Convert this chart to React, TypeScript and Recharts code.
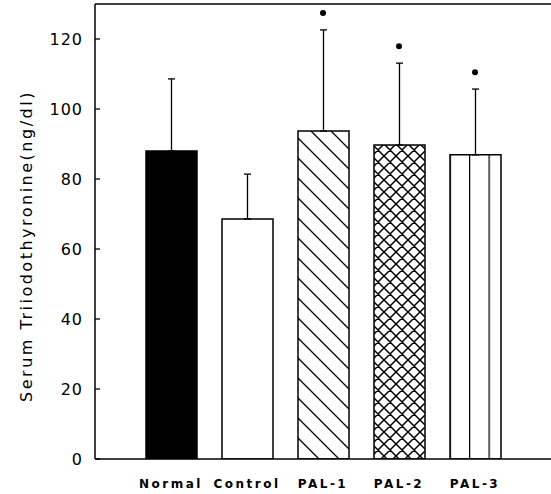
import React from 'react';
import {
  ComposedChart,
  Bar,
  Cell,
  ErrorBar,
  Scatter,
  XAxis,
  YAxis,
  ReferenceLine,
  Label,
} from 'recharts';

// Serum T3 by group, mean with upper SD, * = significant vs control
const groups = ['Normal', 'Control', 'PAL-1', 'PAL-2', 'PAL-3'];
const means = [88, 68.6, 93.7, 89.7, 86.9];
const sds = [20.6, 12.8, 28.9, 23.4, 18.8];
const significant = [false, false, true, true, true];
const yTicks = [0, 20, 40, 60, 80, 100, 120];

const barFills = ['#000', '#fff', 'url(#hatch)', 'url(#cross)', 'url(#vlines)'];
const STAR_GAP = 4.8;

const data = groups.map((name, i) => ({
  name,
  mean: means[i],
  err: [0, sds[i]],
  star: significant[i] ? means[i] + sds[i] + STAR_GAP : null,
}));

const XTick = ({ x, y, payload }: any) => (
  <text
    x={x}
    y={y + 29}
    textAnchor="middle"
    fontFamily="DejaVu Sans"
    fontWeight="bold"
    fontSize={12}
    letterSpacing={2.5}
    fill="#000"
  >
    {payload.value}
  </text>
);

const Star = ({ cx, cy }: any) => {
  if (cx == null || cy == null || isNaN(cy)) return <g />;
  return <circle cx={cx} cy={cy} r={3} fill="#000" />;
};

const YLabel = () => (
  <text
    x={26}
    y={246}
    transform="rotate(-90 26 246)"
    textAnchor="middle"
    dominantBaseline="central"
    fontFamily="DejaVu Sans"
    fontSize={16}
    letterSpacing={2.5}
    fill="#000"
  >
    Serum Triiodothyronine(ng/dl)
  </text>
);

export default function App() {
  return (
    <div style={{ position: 'absolute', left: 0, top: 0, background: '#fff' }}>
      {/* hatch patterns shared by the bars */}
      <svg width={0} height={0} style={{ position: 'absolute' }}>
        <defs>
          <pattern id="hatch" patternUnits="userSpaceOnUse" width={20} height={20}>
            <path d="M-5,-5 L25,25 M-5,15 L5,25 M15,-5 L25,5" stroke="#000" strokeWidth={1.3} />
          </pattern>
          <pattern id="cross" patternUnits="userSpaceOnUse" width={12} height={12}>
            <rect width={12} height={12} fill="#fff" />
            <path
              d="M-3,-3 L15,15 M-3,9 L3,15 M9,-3 L15,3 M15,-3 L-3,15 M3,-3 L-3,3 M15,9 L9,15"
              stroke="#000"
              strokeWidth={1.5}
            />
          </pattern>
          <pattern id="vlines" patternUnits="userSpaceOnUse" x={469} width={19.5} height={10}>
            <rect width={19.5} height={10} fill="#fff" />
            <line x1={0.6} y1={0} x2={0.6} y2={10} stroke="#000" strokeWidth={1.3} />
          </pattern>
        </defs>
      </svg>
      <ComposedChart
        width={551}
        height={494}
        data={data}
        margin={{ top: 4, right: 0, bottom: 0, left: 0 }}
      >
        <XAxis
          dataKey="name"
          height={35}
          padding={{ left: 38, right: 38 }}
          axisLine={{ stroke: '#000', strokeWidth: 1.5 }}
          tickLine={false}
          tickSize={0}
          tickMargin={0}
          tick={<XTick />}
          interval={0}
        />
        <YAxis
          width={95}
          domain={[0, 130]}
          ticks={yTicks}
          allowDataOverflow
          axisLine={{ stroke: '#000', strokeWidth: 1.5 }}
          tickLine={{ stroke: '#000', strokeWidth: 1.3 }}
          tickSize={-5}
          tickMargin={17}
          tick={{ fill: '#000', fontSize: 16, fontFamily: 'DejaVu Sans', letterSpacing: 1 }}
        >
          <Label content={<YLabel />} />
        </YAxis>
        <ReferenceLine y={130} stroke="#000" strokeWidth={1.5} />
        <Bar dataKey="mean" barSize={51} stroke="#000" strokeWidth={1.5} isAnimationActive={false}>
          {data.map((d, i) => (
            <Cell key={d.name} fill={barFills[i]} />
          ))}
          <ErrorBar dataKey="err" width={3.5} stroke="#000" strokeWidth={1.3} />
        </Bar>
        <Scatter dataKey="star" shape={<Star />} isAnimationActive={false} />
      </ComposedChart>
    </div>
  );
}
